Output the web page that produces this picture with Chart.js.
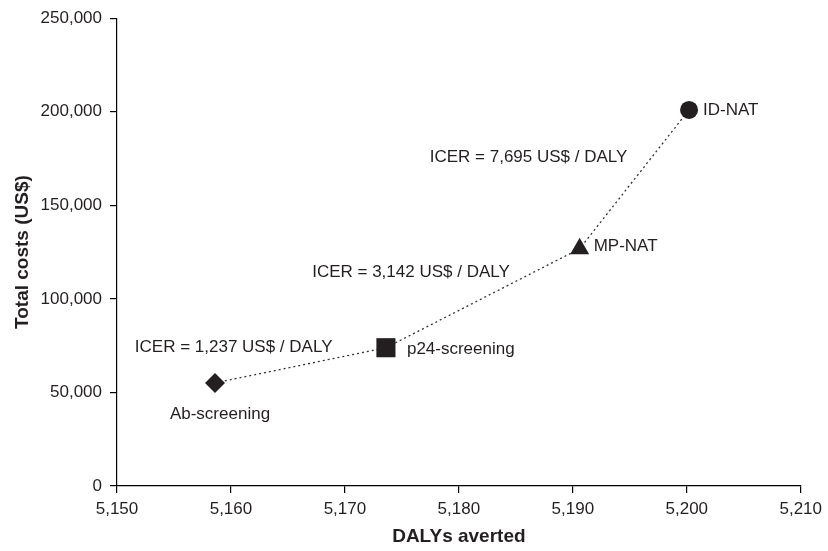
<!DOCTYPE html>
<html>
<head>
<meta charset="utf-8">
<script src="https://cdn.jsdelivr.net/npm/chart.js@4"></script>
<style>
  html, body { margin: 0; padding: 0; background: #fff; }
  #wrap { width: 828px; height: 551px; position: relative; }
</style>
</head>
<body>
<div id="wrap"><canvas id="myChart"></canvas></div>
<script>
// screening strategies
var strategies = ['Ab-screening', 'p24-screening', 'MP-NAT', 'ID-NAT']
var dalysAverted = [5158.6, 5173.6, 5190.6, 5200.2]
var totalCosts = [55100, 73900, 126800, 201000]
var icerLabels = ['ICER = 1,237 US$ / DALY', 'ICER = 3,142 US$ / DALY', 'ICER = 7,695 US$ / DALY']
var markerStyles = ['rectRot', 'rect', 'triangle', 'circle']
var markerSizes = [10, 13.5, 11, 9]

var ink = '#231f20'
var labelFont = '17px "Liberation Sans", Arial, sans-serif'

// offsets of names from their point, and of ICER texts from segment middle
var nameOffsets = [[5, 31, 'center'], [21, 2, 'left'], [14, -2, 'left'], [14, 0, 'left']]
var icerOffsets = [[32, -18], [27, -26], [-7, -22]]

var labelPlugin = {
    id: 'labels',
    afterDatasetsDraw: function (chart) {
        var pts = chart.getDatasetMeta(0).data
        var ctx = chart.ctx
        ctx.save()
        ctx.font = labelFont
        ctx.fillStyle = ink
        ctx.textBaseline = 'middle'
        pts.forEach((p, i) => {
            ctx.textAlign = nameOffsets[i][2]
            ctx.fillText(strategies[i], p.x + nameOffsets[i][0], p.y + nameOffsets[i][1])
        })
        ctx.textAlign = 'right'
        icerLabels.forEach((txt, i) => {
            var mx = (pts[i].x + pts[i + 1].x) / 2
            var my = (pts[i].y + pts[i + 1].y) / 2
            ctx.fillText(txt, mx + icerOffsets[i][0], my + icerOffsets[i][1])
        })
        ctx.restore()
    }
}

var wPoints = dalysAverted.map((d, i) => ({ x: d, y: totalCosts[i] }))

var ctx = document.getElementById('myChart').getContext('2d')
var myChart = new Chart(ctx, {
    type: 'scatter',
    data: {
        datasets: [{
            data: wPoints,
            showLine: true,
            borderColor: '#333',
            borderWidth: 1.3,
            borderDash: [2, 3],
            pointStyle: markerStyles,
            pointRadius: markerSizes,
            pointHoverRadius: markerSizes,
            pointBackgroundColor: ink,
            pointBorderColor: ink,
            pointBorderWidth: 0,
            clip: false
        }]
    },
    options: {
        responsive: true,
        maintainAspectRatio: false,
        animation: false,
        layout: { padding: { top: 17.5, right: 23, left: 0, bottom: 0 } },
        plugins: { legend: { display: false }, tooltip: { enabled: false } },
        scales: {
            x: {
                type: 'linear',
                min: 5150,
                max: 5210,
                ticks: { stepSize: 10, color: ink, padding: 6, font: { size: 17, family: '"Liberation Sans", Arial' } },
                grid: { drawOnChartArea: false, drawTicks: true, tickLength: 7, color: '#000', lineWidth: 1.2 },
                border: { color: '#000', width: 1.2 },
                title: { display: true, text: 'DALYs averted', color: ink, padding: { top: 0, bottom: 3 },
                    font: { size: 19, weight: 'bold', family: '"Liberation Sans", Arial' } },
                afterFit: function (s) { s.height = 65 }
            },
            y: {
                min: 0,
                max: 250000,
                ticks: { stepSize: 50000, color: ink, padding: 8, font: { size: 17, family: '"Liberation Sans", Arial' } },
                grid: { drawOnChartArea: false, drawTicks: true, tickLength: 7, color: '#000', lineWidth: 1.2 },
                border: { color: '#000', width: 1.2 },
                title: { display: true, text: 'Total costs (US$)', color: ink, padding: { top: 11, bottom: 0 },
                    font: { size: 19, weight: 'bold', family: '"Liberation Sans", Arial' } },
                afterFit: function (s) { s.width = 117 }
            }
        }
    },
    plugins: [labelPlugin]
})
</script>
</body>
</html>
